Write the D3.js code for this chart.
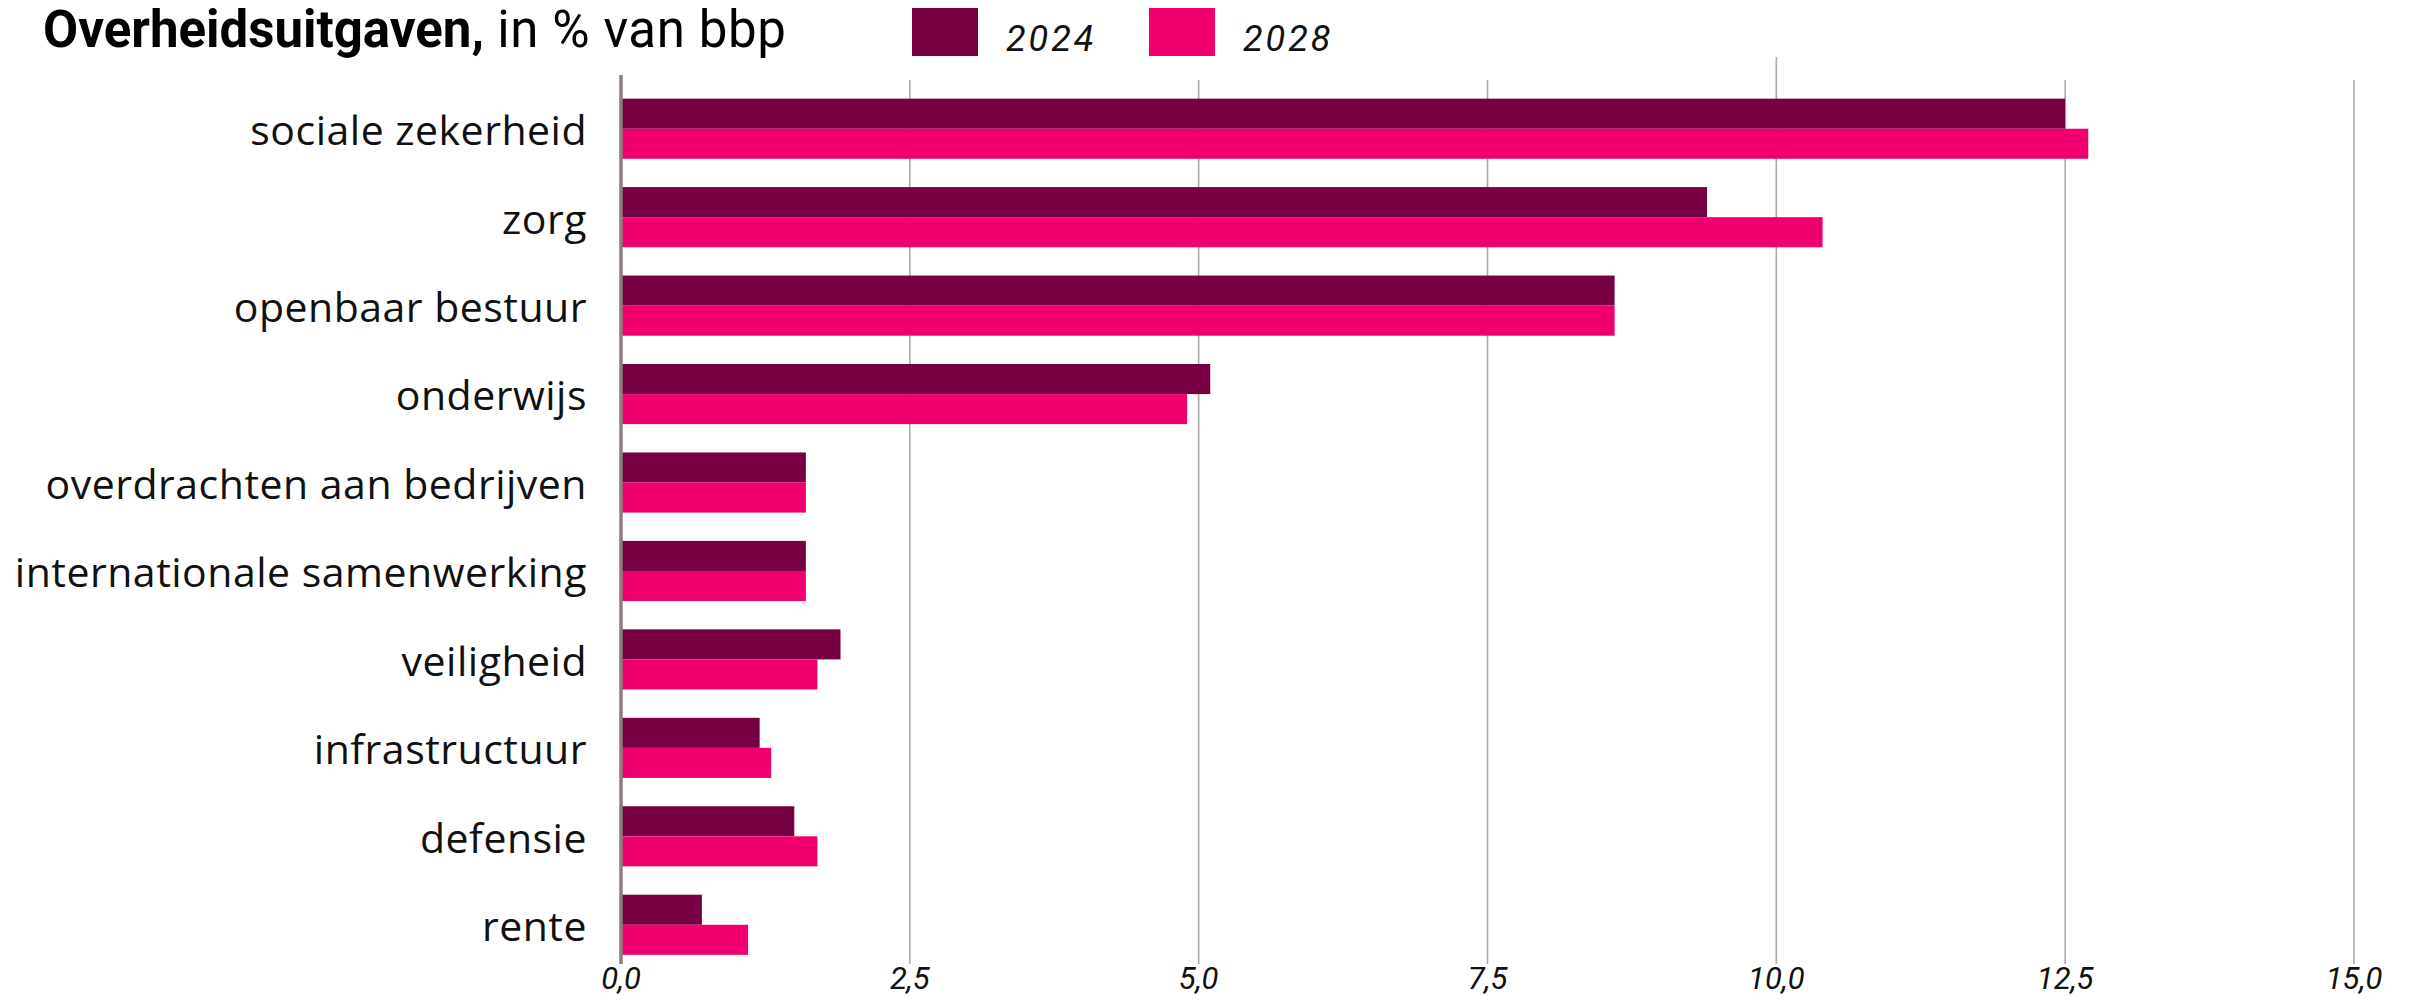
<!DOCTYPE html>
<html>
<head>
<meta charset="utf-8">
<script src="https://cdn.jsdelivr.net/npm/d3@7"></script>
<style>
  html, body { margin: 0; padding: 0; background: #fff; }
  svg { display: block; }
</style>
</head>
<body>
<svg id="chart" width="2415" height="1000"></svg>
<script>
const categories = [
  "sociale zekerheid", "zorg", "openbaar bestuur", "onderwijs",
  "overdrachten aan bedrijven", "internationale samenwerking",
  "veiligheid", "infrastructuur", "defensie", "rente"
];
const seriesNames = ["2024", "2028"];
const values2024 = [12.5, 9.4, 8.6, 5.1, 1.6, 1.6, 1.9, 1.2, 1.5, 0.7];
const values2028 = [12.7, 10.4, 8.6, 4.9, 1.6, 1.6, 1.7, 1.3, 1.7, 1.1];
const xTicks = [0, 2.5, 5, 7.5, 10, 12.5, 15];
const titleBold = "Overheidsuitgaven,";
const titleRest = " in % van bbp";

const colors = { "2024": "#760041", "2028": "#F0006E" };
const seriesValues = { "2024": values2024, "2028": values2028 };

const svg = d3.select("#chart");
const x = d3.scaleLinear().domain([0, 15]).range([621, 2354]);
const y = d3.scaleBand().domain(categories).range([84.5, 969]).paddingInner(0.32).paddingOuter(0.16);
const ySub = d3.scaleBand().domain(seriesNames).range([0, y.bandwidth()]);

// grid lines
svg.append("g").selectAll("line").data(xTicks.filter(d => d > 0)).join("line")
  .attr("x1", d => x(d)).attr("x2", d => x(d))
  .attr("y1", d => d === 10 ? 57 : 80).attr("y2", 964)
  .attr("stroke", "#b3a8a8").attr("stroke-width", 1.6);

// bars
const groups = svg.append("g").selectAll("g").data(categories).join("g")
  .attr("transform", d => `translate(0,${y(d)})`);
groups.selectAll("rect").data((c, i) => seriesNames.map(s => ({ s, v: seriesValues[s][i] }))).join("rect")
  .attr("x", x(0))
  .attr("y", d => ySub(d.s))
  .attr("width", d => x(d.v) - x(0))
  .attr("height", ySub.bandwidth())
  .attr("fill", d => colors[d.s]);

// axis line
svg.append("line").attr("x1", x(0)).attr("x2", x(0)).attr("y1", 75).attr("y2", 964)
  .attr("stroke", "#8c7e7b").attr("stroke-width", 3.5);

// category labels
svg.append("g").selectAll("text").data(categories).join("text")
  .attr("x", 587).attr("y", d => y(d) + y.bandwidth() / 2 + 2)
  .attr("dy", "0.35em").attr("text-anchor", "end")
  .attr("font-family", "'Open Sans', sans-serif").attr("font-size", 41)
  .attr("letter-spacing", 0.5)
  .attr("fill", "#111").text(d => d);

// x tick labels
const fmt = d => d3.format(".1f")(d).replace(".", ",");
svg.append("g").selectAll("text").data(xTicks).join("text")
  .attr("x", d => x(d)).attr("y", 989).attr("text-anchor", "middle")
  .attr("font-family", "Roboto, sans-serif").attr("font-style", "italic")
  .attr("font-size", 31).attr("fill", "#111").text(fmt);

// title
const t = svg.append("text").attr("x", 43).attr("y", 47)
  .attr("font-family", "Roboto, sans-serif").attr("font-size", 51).attr("fill", "#000");
t.append("tspan").attr("font-weight", 700).text(titleBold);
t.append("tspan").attr("font-weight", 400).attr("letter-spacing", 0.6).text(titleRest);

// legend
const legX = [912, 1149];
const leg = svg.append("g").selectAll("g").data(seriesNames).join("g")
  .attr("transform", (d, i) => `translate(${legX[i]},8)`);
leg.append("rect").attr("width", 66).attr("height", 48).attr("fill", d => colors[d]);
leg.append("text").attr("x", 94).attr("y", 43)
  .attr("font-family", "Roboto, sans-serif").attr("font-style", "italic")
  .attr("font-size", 36).attr("letter-spacing", 3).attr("fill", "#111").text(d => d);
</script>
</body>
</html>
